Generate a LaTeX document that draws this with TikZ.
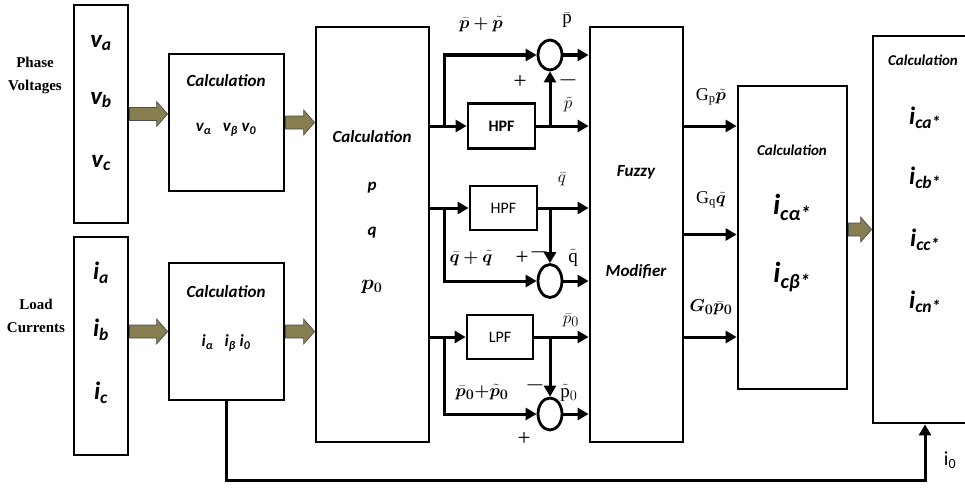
\documentclass[tikz,border=0pt]{standalone}
\usepackage{fontspec}
\usepackage{bm}
\setmainfont{Liberation Serif}
\newfontfamily\carl{Carlito}
\usetikzlibrary{arrows.meta,shapes.geometric,calc}
\definecolor{fatolive}{RGB}{134,125,80}
\tikzset{
  blk/.style={draw, line width=2.8pt, inner sep=0pt},
  sumnode/.style={draw, ellipse, line width=2.8pt, minimum width=24pt, minimum height=30pt, inner sep=0pt},
  sig/.style={line width=3pt, -{Triangle[length=11pt,width=12pt]}},
  fat/.style={fill=fatolive, draw=black!70, line width=0.7pt,
    to path={let \p1=(\tikztostart), \p2=(\tikztotarget) in
      (\x1,\y1+6.5pt) -- (\x2-11pt,\y1+6.5pt) -- (\x2-11pt,\y1+12.5pt) -- (\x2,\y1)
      -- (\x2-11pt,\y1-12.5pt) -- (\x2-11pt,\y1-6.5pt) -- (\x1,\y1-6.5pt) -- cycle}},
  cbi/.style={font=\carl\bfseries\itshape\fontsize{#1}{#1}\selectfont, inner sep=0pt},
  cbi/.default=15,
  cr/.style={font=\carl\fontsize{#1}{#1}\selectfont, inner sep=0pt},
  cr/.default=15,
  tms/.style={font=\bfseries\fontsize{15}{23}\selectfont, align=center, inner sep=0pt},
  sgn/.style={font=\fontsize{23}{23}\selectfont, inner sep=0pt},
  mth/.style={font=\fontsize{#1}{#1}\selectfont, inner sep=0pt},
  mth/.default=19
}
\begin{document}
\begin{tikzpicture}[x=1pt, y=-1pt]
  \useasboundingbox (0,0) rectangle (965,487);
  % input blocks
  \node[blk, minimum width=54, minimum height=218] (va) at (101,114) {};
  \node[blk, minimum width=54, minimum height=218] (ia) at (101,346) {};
  \node[tms] (phv) at (35,75) {Phase\\Voltages};
  \node[tms] (ldc) at (36,316) {Load\\Currents};
  \node[cbi=25] (lva) at (101,43) {v\textsubscript{a}};
  \node[cbi=25] (lvb) at (101,100) {v\textsubscript{b}};
  \node[cbi=25] (lvc) at (101,163) {v\textsubscript{c}};
  \node[cbi=25] (lia) at (101,273) {i\textsubscript{a}};
  \node[cbi=25] (lib) at (101,330) {i\textsubscript{b}};
  \node[cbi=25] (lic) at (101,393) {i\textsubscript{c}};
  % alpha-beta-0 blocks
  \node[blk, minimum width=115, minimum height=137] (calcv) at (226.5,122.5) {};
  \node[blk, minimum width=115, minimum height=137] (calci) at (226.5,331.5) {};
  \node[cbi=17] (tcv) at (226,81) {Calculation};
  \node[cbi=17] (tvab) at (226,130) {v\textsubscript{α}\ \ \ v\textsubscript{β}\ v\textsubscript{0}};
  \node[cbi=17] (tci) at (226,292) {Calculation};
  \node[cbi=17] (tiab) at (226,343) {i\textsubscript{α}\ \ \ i\textsubscript{β}\ i\textsubscript{0}};
  % power block
  \node[blk, minimum width=113, minimum height=415] (pq) at (372.5,234.5) {};
  \node[cbi=17] (tpq) at (372,137) {Calculation};
  \node[cbi=17] (tp) at (372,188) {p};
  \node[cbi=17] (tq) at (372,233) {q};
  \node[mth=20] (tpz) at (372,287) {$\bm{p_0}$};
  % filters and sums
  \node[blk, minimum width=67, minimum height=45] (hpf1) at (501.5,126) {};
  \node[blk, minimum width=67, minimum height=44] (hpf2) at (503.5,208) {};
  \node[blk, minimum width=66, minimum height=44] (lpf) at (500,337) {};
  \node[cr=16] (thpf1) at (hpf1) {\bfseries HPF};
  \node[cr=16] (thpf2) at (hpf2) {HPF};
  \node[cr=16] (tlpf) at (lpf) {LPF};
  \node[sumnode] (sum1) at (550,55) {};
  \node[sumnode, minimum height=33] (sum2) at (550,281) {};
  \node[sumnode, minimum height=32] (sum3) at (550,414) {};
  % fuzzy block
  \node[blk, minimum width=93, minimum height=415] (fz) at (636.5,234.5) {};
  \node[cbi=17] (tfz) at (636,172) {Fuzzy};
  \node[cbi=17] (tmod) at (636,272) {Modifier};
  % reference current blocks
  \node[blk, minimum width=109, minimum height=303] (calcic) at (792.5,237.5) {};
  \node[cbi=15] (tcic) at (792,150) {Calculation};
  \node[cbi=29] (tica) at (792,207) {i\textsubscript{cα*}};
  \node[cbi=29] (ticb) at (792,277) {i\textsubscript{cβ*}};
  \node[blk, minimum width=137, minimum height=387] (fin) at (941.5,229.5) {};
  \node[cbi=15] (tfin) at (923,60) {Calculation};
  \node[cbi=25] (tfa) at (925,118) {i\textsubscript{ca*}};
  \node[cbi=25] (tfb) at (925,178) {i\textsubscript{cb*}};
  \node[cbi=25] (tfc) at (925,240) {i\textsubscript{cc*}};
  \node[cbi=25] (tfn) at (925,302) {i\textsubscript{cn*}};
  % fat arrows
  \draw[fat] (va.east) to (calcv.west |- va.east);
  \draw[fat] (calcv.east) to (pq.west |- calcv.east);
  \draw[fat] (ia.east |- calci.west) to (calci.west);
  \draw[fat] (calci.east) to (pq.west |- calci.east);
  \draw[fat] (calcic.east |- fin.west) to (fin.west);
  % p branch
  \coordinate (j1) at ($(pq.east |- hpf1)+(14,0)$);
  \coordinate (j2) at (sum1 |- hpf1);
  \draw[sig] (pq.east |- hpf1) -- (hpf1.west);
  \draw[sig] (j1) |- (sum1.west);
  \draw[sig] (hpf1.east) -- (fz.west |- hpf1);
  \draw[sig] (j2) -- (sum1.south);
  \draw[sig] (sum1.east) -- (fz.west |- sum1);
  % q branch
  \coordinate (j3) at ($(pq.east |- hpf2)+(14,0)$);
  \coordinate (j4) at (sum2 |- hpf2);
  \draw[sig] (pq.east |- hpf2) -- (hpf2.west);
  \draw[sig] (j3) |- (sum2.west);
  \draw[sig] (hpf2.east) -- (fz.west |- hpf2);
  \draw[sig] (j4) -- (sum2.north);
  \draw[sig] (sum2.east) -- (fz.west |- sum2);
  % p0 branch
  \coordinate (j5) at ($(pq.east |- lpf)+(14,0)$);
  \coordinate (j6) at (sum3 |- lpf);
  \draw[sig] (pq.east |- lpf) -- (lpf.west);
  \draw[sig] (j5) |- (sum3.west);
  \draw[sig] (lpf.east) -- (fz.west |- lpf);
  \draw[sig] (j6) -- (sum3.north);
  \draw[sig] (sum3.east) -- (fz.west |- sum3);
  % fuzzy outputs
  \draw[sig] (fz.east |- hpf1) -- (calcic.west |- hpf1);
  \draw[sig] (fz.east) -- (calcic.west |- fz.east);
  \draw[sig] (fz.east |- lpf) -- (calcic.west |- lpf);
  % i0 feedback
  \coordinate (fbk) at (925,480);
  \draw[sig] (calci.south) |- (fbk) -- (fbk |- fin.south);
  % signal labels
  \node[mth] (lppt) at (481,24) {$\bm{\bar{p}+\tilde{p}}$};
  \node[mth] (lpb) at (567,20) {$\bar{\mathrm{p}}$};
  \node[sgn] (sga) at (520,82) {+};
  \node[sgn] (sgb) at (568,80) {$-$};
  \node[mth] (lpt) at (568,105) {$\tilde{p}$};
  \node[mth] (lqb) at (562,179) {$\bar{q}$};
  \node[mth] (lqqt) at (471,258) {$\bm{\bar{q}+\tilde{q}}$};
  \node[sgn] (sgc) at (522,258) {+};
  \node[sgn] (sgd) at (539,252) {$-$};
  \node[mth] (lqt) at (573,258) {$\tilde{\mathrm{q}}$};
  \node[mth] (lpzb) at (571,320) {$\bar{p}_0$};
  \node[mth] (lpzpt) at (482,392) {$\bm{\bar{p}_0{+}\tilde{p}_0}$};
  \node[sgn] (sge) at (535,385) {$-$};
  \node[mth] (lpzt) at (569,393) {$\tilde{\mathrm{p}}_0$};
  \node[sgn] (sgf) at (524,439) {+};
  \node[mth=18] (lgp) at (711,97) {$\mathrm{G_p}\bm{\tilde{p}}$};
  \node[mth=18] (lgq) at (711,200) {$\mathrm{G_q}\bm{\tilde{q}}$};
  \node[mth] (lgz) at (711,307) {$\bm{G_0\bar{p}_0}$};
  \node[cr=20] (liz) at (950,460) {i\textsubscript{0}};
\end{tikzpicture}
\end{document}
